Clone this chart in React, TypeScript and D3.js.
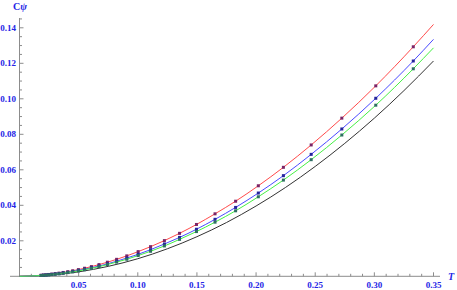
import React from "react";
import * as d3 from "d3";

const W = 457;
const H = 290;

// Temperatures of the sampled points (log-spaced)
const tPoints = [
  0.0183, 0.0202, 0.0224, 0.0247, 0.0273, 0.0302, 0.0334, 0.0369, 0.0408, 0.045,
  0.0498, 0.055, 0.0608, 0.0672, 0.0743, 0.0821, 0.0907, 0.1003, 0.1108, 0.1225,
  0.1353, 0.1496, 0.1653, 0.1827, 0.2019, 0.2231, 0.2466, 0.2725, 0.3012, 0.3329,
];
const redValues = [
  0.00059, 0.00071, 0.00085, 0.00103, 0.00124, 0.00149, 0.00179, 0.00216, 0.0026, 0.00313,
  0.00377, 0.00454, 0.00547, 0.00659, 0.00794, 0.00956, 0.0115, 0.0139, 0.0167, 0.0201,
  0.0242, 0.0292, 0.0352, 0.0423, 0.051, 0.0614, 0.074, 0.0891, 0.1073, 0.1293,
];
const blueValues = [
  0.00049, 0.00059, 0.00072, 0.00087, 0.0011, 0.0013, 0.0015, 0.0019, 0.0022, 0.0027,
  0.0033, 0.004, 0.0048, 0.0058, 0.007, 0.0085, 0.0103, 0.0124, 0.015, 0.0182,
  0.0219, 0.0265, 0.0321, 0.0388, 0.0469, 0.0567, 0.0687, 0.083, 0.1003, 0.1213,
];
const greenValues = [
  0.00045, 0.00054, 0.00066, 0.00079, 0.00096, 0.0012, 0.0014, 0.0017, 0.0021, 0.0025,
  0.003, 0.0037, 0.0045, 0.0054, 0.0066, 0.008, 0.0096, 0.0117, 0.0141, 0.0171,
  0.0208, 0.0252, 0.0305, 0.0369, 0.0448, 0.0542, 0.0657, 0.0796, 0.0964, 0.1169,
];
// End values of the fitted curves at T = 0.35
const curveEnd = { red: 0.1419, blue: 0.1335, green: 0.1287 };
// Black reference curve (no markers)
const blackT = [0, 0.025, 0.05, 0.075, 0.1, 0.125, 0.15, 0.175, 0.2, 0.225, 0.25, 0.275, 0.3, 0.325, 0.35];
const blackValues = [0, 0.0006, 0.0025, 0.0056, 0.0099, 0.0155, 0.0223, 0.0303, 0.0396, 0.0501, 0.0619, 0.0749, 0.0891, 0.1046, 0.1213];

const xTicks = [0.05, 0.1, 0.15, 0.2, 0.25, 0.3, 0.35];
const yTicks = [0.02, 0.04, 0.06, 0.08, 0.1, 0.12, 0.14];

const labelColor = "#2424e6";
const axisColor = "#8c8c8c";

export default function App() {
  const x = d3.scaleLinear().domain([0, 0.35]).range([19.5, 433.5]);
  const y = d3.scaleLinear().domain([0, 0.14]).range([276.3, 27.8]);

  const line = d3
    .line<[number, number]>()
    .x((d) => x(d[0]))
    .y((d) => y(d[1]))
    .curve(d3.curveMonotoneX);

  const series = [
    { name: "red", vals: redValues, end: curveEnd.red, stroke: "#ff4a4a", marker: "#7a2466" },
    { name: "blue", vals: blueValues, end: curveEnd.blue, stroke: "#4a4aff", marker: "#24249a" },
    { name: "green", vals: greenValues, end: curveEnd.green, stroke: "#45f045", marker: "#2e6e62" },
  ];

  const xMinor = d3.range(0.01, 0.355, 0.01).filter((v) => Math.abs(v / 0.05 - Math.round(v / 0.05)) > 1e-6);
  const yMinor = d3.range(0.005, 0.146, 0.005).filter((v) => Math.abs(v / 0.02 - Math.round(v / 0.02)) > 1e-6);

  const y0 = y(0);
  const x0 = x(0);

  return (
    <svg
      width={W}
      height={H}
      style={{ position: "absolute", left: 0, top: 0, background: "#fff" }}
      fontFamily="'Liberation Serif', 'DejaVu Serif', serif"
    >
      {/* axes */}
      <line x1={10} x2={440} y1={y0} y2={y0} stroke={axisColor} strokeWidth={1} />
      <line x1={x0} x2={x0} y1={y0} y2={y(0.1455)} stroke={axisColor} strokeWidth={1} />
      {xTicks.map((t) => (
        <g key={"xt" + t}>
          <line x1={x(t)} x2={x(t)} y1={y0} y2={y0 - 4} stroke={axisColor} />
          <text x={x(t)} y={288} textAnchor="middle" fontSize={9} fontWeight="bold" fill={labelColor}>
            {t.toFixed(2)}
          </text>
        </g>
      ))}
      {xMinor.map((t) => (
        <line key={"xm" + t} x1={x(t)} x2={x(t)} y1={y0} y2={y0 - 2.5} stroke={axisColor} />
      ))}
      {yTicks.map((t) => (
        <g key={"yt" + t}>
          <line x1={x0} x2={x0 + 4} y1={y(t)} y2={y(t)} stroke={axisColor} />
          <text x={16} y={y(t) + 3} textAnchor="end" fontSize={9} fontWeight="bold" fill={labelColor}>
            {t.toFixed(2)}
          </text>
        </g>
      ))}
      {yMinor.map((t) => (
        <line key={"ym" + t} x1={x0} x2={x0 + 2.5} y1={y(t)} y2={y(t)} stroke={axisColor} />
      ))}
      <text x={448} y={280} fontSize={10} fontStyle="italic" fontWeight="bold" fill={labelColor}>
        T
      </text>
      <text x={13} y={10} fontSize={10} fontWeight="bold" fill={labelColor}>
        C<tspan fontStyle="italic">ψ</tspan>
      </text>

      {/* black curve */}
      <path
        d={line(blackT.map((t, i) => [t, blackValues[i]]) as [number, number][]) || ""}
        fill="none"
        stroke="#333"
        strokeWidth={1}
      />
      {series.map((s) => {
        const pts: [number, number][] = [[0, 0], ...tPoints.map((t, i) => [t, s.vals[i]] as [number, number]), [0.35, s.end]];
        return (
          <g key={s.name}>
            <path d={line(pts) || ""} fill="none" stroke={s.stroke} strokeWidth={1} />
            {tPoints.map((t, i) => (
              <rect
                key={i}
                x={x(t) - 1.5}
                y={y(s.vals[i]) - 1.5}
                width={3}
                height={3}
                fill={s.marker}
              />
            ))}
          </g>
        );
      })}
    </svg>
  );
}
